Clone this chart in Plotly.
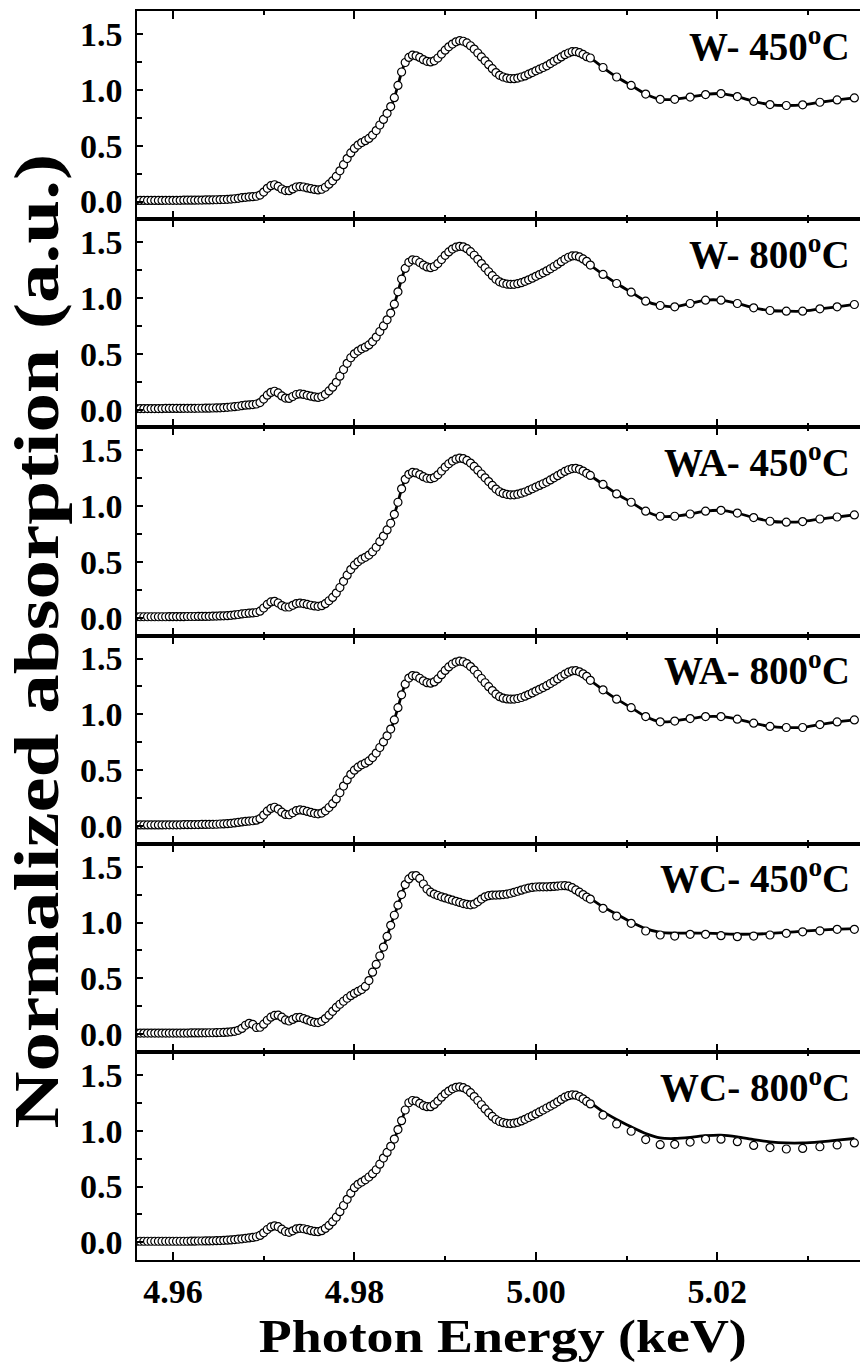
import plotly.graph_objects as go
from plotly.subplots import make_subplots

# Photon energy grid (eV): finely sampled XANES region, then the coarser post-edge region
E_DENSE_EV = [
    4956.0, 4956.4, 4956.8, 4957.2, 4957.6, 4958.0, 4958.4, 4958.8, 4959.2, 4959.6,
    4960.0, 4960.4, 4960.8, 4961.2, 4961.6, 4962.0, 4962.4, 4962.8, 4963.2, 4963.6,
    4964.0, 4964.4, 4964.8, 4965.2, 4965.6, 4966.0, 4966.4, 4966.8, 4967.2, 4967.6,
    4968.0, 4968.4, 4968.8, 4969.2, 4969.6, 4970.0, 4970.4, 4970.8, 4971.2, 4971.6,
    4972.0, 4972.4, 4972.8, 4973.2, 4973.6, 4974.0, 4974.4, 4974.8, 4975.2, 4975.6,
    4976.0, 4976.4, 4976.8, 4977.2, 4977.6, 4978.0, 4978.4, 4978.8, 4979.2, 4979.6,
    4980.0, 4980.4, 4980.8, 4981.2, 4981.6, 4982.0, 4982.4, 4982.8, 4983.2, 4983.6,
    4984.0, 4984.4, 4984.8, 4985.2, 4985.6, 4986.0, 4986.4, 4986.8, 4987.2, 4987.6,
    4988.0, 4988.4, 4988.8, 4989.2, 4989.6, 4990.0, 4990.4, 4990.8, 4991.2, 4991.6,
    4992.0, 4992.4, 4992.8, 4993.2, 4993.6, 4994.0, 4994.4, 4994.8, 4995.2, 4995.6,
    4996.0, 4996.4, 4996.8, 4997.2, 4997.6, 4998.0, 4998.4, 4998.8, 4999.2, 4999.6,
    5000.0, 5000.4, 5000.8, 5001.2, 5001.6, 5002.0, 5002.4, 5002.8, 5003.2, 5003.6,
    5004.0, 5004.4, 5004.8, 5005.2, 5005.6,
]
E_SPARSE_EV = [
    5006.0, 5007.4, 5008.9, 5010.5, 5012.1, 5013.7, 5015.3, 5017.0, 5018.7,
    5020.4, 5022.2, 5024.0, 5025.8, 5027.6, 5029.4, 5031.3, 5033.2, 5035.1,
]

SAMPLES = ["W- 450", "W- 800", "WA- 450", "WA- 800", "WC- 450", "WC- 800"]

# Normalized absorption, measured points
W450_DENSE = [
    0.010, 0.010, 0.010, 0.010, 0.010, 0.010, 0.010, 0.010, 0.011, 0.011,
    0.011, 0.011, 0.011, 0.012, 0.012, 0.012, 0.012, 0.013, 0.013, 0.014,
    0.014, 0.015, 0.016, 0.017, 0.018, 0.020, 0.022, 0.025, 0.029, 0.034,
    0.038, 0.041, 0.043, 0.047, 0.058, 0.085, 0.118, 0.142, 0.150, 0.135,
    0.112, 0.098, 0.097, 0.113, 0.130, 0.134, 0.130, 0.122, 0.115, 0.108,
    0.104, 0.110, 0.128, 0.155, 0.185, 0.225, 0.275, 0.330, 0.385, 0.435,
    0.475, 0.505, 0.528, 0.545, 0.565, 0.595, 0.635, 0.685, 0.735, 0.790,
    0.850, 0.930, 1.040, 1.160, 1.245, 1.290, 1.310, 1.305, 1.290, 1.270,
    1.255, 1.250, 1.260, 1.285, 1.320, 1.355, 1.385, 1.410, 1.430, 1.440,
    1.435, 1.420, 1.395, 1.365, 1.330, 1.295, 1.260, 1.225, 1.190, 1.155,
    1.130, 1.115, 1.105, 1.100, 1.100, 1.105, 1.115, 1.125, 1.140, 1.155,
    1.170, 1.185, 1.200, 1.215, 1.235, 1.255, 1.275, 1.295, 1.315, 1.330,
    1.342, 1.343, 1.333, 1.317, 1.297,
]
W450_SPARSE = [1.285, 1.200, 1.115, 1.040, 0.962, 0.915, 0.915, 0.935, 0.958,
               0.967, 0.940, 0.897, 0.868, 0.860, 0.866, 0.889, 0.910, 0.928]

W800_DENSE = [
    0.010, 0.010, 0.010, 0.010, 0.010, 0.010, 0.010, 0.010, 0.011, 0.011,
    0.011, 0.011, 0.011, 0.012, 0.012, 0.012, 0.012, 0.013, 0.013, 0.014,
    0.014, 0.015, 0.016, 0.017, 0.019, 0.021, 0.024, 0.027, 0.031, 0.036,
    0.040, 0.043, 0.046, 0.051, 0.064, 0.095, 0.130, 0.155, 0.165, 0.150,
    0.123, 0.104, 0.101, 0.118, 0.136, 0.141, 0.137, 0.129, 0.121, 0.114,
    0.110, 0.118, 0.138, 0.168, 0.202, 0.245, 0.300, 0.360, 0.415, 0.465,
    0.500, 0.525, 0.545, 0.560, 0.580, 0.610, 0.650, 0.700, 0.750, 0.805,
    0.865, 0.945, 1.055, 1.170, 1.265, 1.320, 1.342, 1.338, 1.318, 1.295,
    1.278, 1.272, 1.282, 1.308, 1.345, 1.382, 1.413, 1.438, 1.455, 1.463,
    1.458, 1.442, 1.415, 1.383, 1.346, 1.308, 1.270, 1.235, 1.200, 1.168,
    1.145, 1.132, 1.125, 1.122, 1.123, 1.128, 1.137, 1.149, 1.163, 1.178,
    1.194, 1.210, 1.226, 1.243, 1.262, 1.282, 1.303, 1.325, 1.347, 1.365,
    1.377, 1.378, 1.368, 1.350, 1.328,
]
W800_SPARSE = [1.295, 1.211, 1.130, 1.052, 0.972, 0.933, 0.921, 0.951, 0.981,
               0.981, 0.951, 0.912, 0.888, 0.882, 0.882, 0.903, 0.921, 0.942]

WA450_DENSE = [
    0.010, 0.010, 0.010, 0.010, 0.010, 0.010, 0.010, 0.010, 0.010, 0.011,
    0.011, 0.011, 0.011, 0.011, 0.012, 0.012, 0.012, 0.013, 0.013, 0.013,
    0.014, 0.015, 0.016, 0.017, 0.018, 0.020, 0.023, 0.026, 0.030, 0.035,
    0.039, 0.042, 0.044, 0.048, 0.060, 0.088, 0.120, 0.143, 0.148, 0.133,
    0.110, 0.097, 0.097, 0.112, 0.128, 0.132, 0.128, 0.120, 0.113, 0.107,
    0.103, 0.109, 0.127, 0.153, 0.183, 0.222, 0.272, 0.327, 0.382, 0.432,
    0.472, 0.502, 0.525, 0.542, 0.562, 0.592, 0.632, 0.682, 0.732, 0.787,
    0.847, 0.927, 1.035, 1.155, 1.240, 1.285, 1.302, 1.298, 1.283, 1.264,
    1.250, 1.246, 1.256, 1.281, 1.315, 1.350, 1.380, 1.404, 1.421, 1.430,
    1.425, 1.410, 1.386, 1.356, 1.322, 1.288, 1.254, 1.220, 1.186, 1.153,
    1.129, 1.114, 1.106, 1.102, 1.102, 1.107, 1.116, 1.127, 1.141, 1.156,
    1.171, 1.186, 1.201, 1.216, 1.235, 1.254, 1.273, 1.292, 1.311, 1.326,
    1.337, 1.339, 1.330, 1.314, 1.294,
]
WA450_SPARSE = [1.275, 1.195, 1.110, 1.035, 0.955, 0.910, 0.910, 0.930, 0.955,
                0.963, 0.938, 0.898, 0.865, 0.857, 0.862, 0.885, 0.903, 0.922]

WA800_DENSE = [
    0.010, 0.010, 0.010, 0.010, 0.010, 0.010, 0.010, 0.010, 0.011, 0.011,
    0.011, 0.011, 0.011, 0.012, 0.012, 0.012, 0.013, 0.013, 0.014, 0.014,
    0.015, 0.015, 0.016, 0.018, 0.019, 0.021, 0.024, 0.028, 0.032, 0.037,
    0.041, 0.044, 0.047, 0.052, 0.066, 0.098, 0.133, 0.158, 0.168, 0.152,
    0.124, 0.104, 0.101, 0.119, 0.138, 0.144, 0.140, 0.131, 0.122, 0.114,
    0.109, 0.116, 0.136, 0.166, 0.200, 0.243, 0.298, 0.358, 0.413, 0.463,
    0.500, 0.527, 0.548, 0.563, 0.583, 0.613, 0.653, 0.703, 0.753, 0.808,
    0.868, 0.950, 1.060, 1.175, 1.270, 1.325, 1.347, 1.343, 1.323, 1.300,
    1.284, 1.279, 1.290, 1.317, 1.355, 1.393, 1.425, 1.451, 1.468, 1.476,
    1.471, 1.455, 1.428, 1.396, 1.359, 1.321, 1.283, 1.248, 1.213, 1.181,
    1.158, 1.145, 1.138, 1.136, 1.137, 1.142, 1.151, 1.163, 1.177, 1.192,
    1.208, 1.224, 1.240, 1.257, 1.276, 1.296, 1.317, 1.339, 1.360, 1.378,
    1.390, 1.391, 1.381, 1.363, 1.340,
]
WA800_SPARSE = [1.305, 1.220, 1.136, 1.060, 0.980, 0.933, 0.940, 0.962, 0.980,
                0.980, 0.957, 0.921, 0.892, 0.882, 0.882, 0.908, 0.932, 0.950]

WC450_DENSE = [
    0.010, 0.010, 0.010, 0.010, 0.010, 0.010, 0.010, 0.010, 0.010, 0.010,
    0.010, 0.010, 0.010, 0.010, 0.010, 0.011, 0.011, 0.011, 0.012, 0.012,
    0.013, 0.013, 0.014, 0.015, 0.016, 0.018, 0.021, 0.026, 0.035, 0.052,
    0.080, 0.097, 0.088, 0.060, 0.062, 0.090, 0.125, 0.152, 0.168, 0.170,
    0.152, 0.128, 0.118, 0.132, 0.148, 0.150, 0.140, 0.128, 0.115, 0.106,
    0.104, 0.115, 0.140, 0.170, 0.205, 0.240, 0.268, 0.295, 0.322, 0.345,
    0.365, 0.383, 0.400, 0.428, 0.480, 0.555, 0.625, 0.700, 0.780, 0.875,
    0.975, 1.065, 1.155, 1.250, 1.340, 1.390, 1.418, 1.420, 1.395, 1.345,
    1.300, 1.272, 1.255, 1.242, 1.230, 1.220, 1.210, 1.200, 1.190, 1.180,
    1.170, 1.163, 1.158, 1.165, 1.185, 1.210, 1.230, 1.240, 1.245, 1.246,
    1.247, 1.250, 1.255, 1.262, 1.270, 1.280, 1.290, 1.300, 1.308, 1.314,
    1.318, 1.320, 1.320, 1.320, 1.321, 1.323, 1.326, 1.329, 1.330, 1.325,
    1.312, 1.292, 1.272, 1.250, 1.228,
]
WC450_SPARSE = [1.210, 1.127, 1.058, 0.993, 0.924, 0.888, 0.879, 0.894, 0.894,
                0.882, 0.873, 0.879, 0.888, 0.903, 0.917, 0.926, 0.939, 0.939]

WC800_DENSE = [
    0.010, 0.010, 0.010, 0.010, 0.010, 0.010, 0.010, 0.010, 0.010, 0.010,
    0.010, 0.010, 0.010, 0.010, 0.010, 0.011, 0.011, 0.012, 0.012, 0.013,
    0.013, 0.014, 0.015, 0.016, 0.018, 0.020, 0.022, 0.025, 0.028, 0.032,
    0.036, 0.040, 0.044, 0.050, 0.062, 0.085, 0.115, 0.138, 0.148, 0.140,
    0.118, 0.097, 0.090, 0.103, 0.120, 0.126, 0.122, 0.114, 0.105, 0.098,
    0.096, 0.105, 0.125, 0.152, 0.185, 0.225, 0.275, 0.330, 0.385, 0.440,
    0.490, 0.520, 0.540, 0.560, 0.585, 0.615, 0.650, 0.700, 0.755, 0.805,
    0.860, 0.925, 1.010, 1.090, 1.185, 1.250, 1.270, 1.265, 1.245, 1.225,
    1.215, 1.215, 1.235, 1.265, 1.300, 1.330, 1.355, 1.375, 1.388, 1.392,
    1.385, 1.368, 1.340, 1.305, 1.270, 1.232, 1.195, 1.160, 1.128, 1.100,
    1.082, 1.072, 1.066, 1.064, 1.067, 1.075, 1.087, 1.102, 1.118, 1.133,
    1.150, 1.168, 1.185, 1.203, 1.220, 1.238, 1.258, 1.280, 1.300, 1.313,
    1.320, 1.318, 1.305, 1.285, 1.262,
]
WC800_SPARSE = [1.240, 1.140, 1.060, 0.995, 0.920, 0.875, 0.878, 0.898, 0.925,
                0.924, 0.902, 0.868, 0.849, 0.836, 0.841, 0.856, 0.872, 0.890]

# Fitted curves in the post-edge region (the WC samples deviate from their fits)
WC450_FIT_SPARSE = [1.215, 1.140, 1.075, 1.005, 0.945, 0.912, 0.905, 0.906, 0.905,
                    0.900, 0.895, 0.896, 0.902, 0.912, 0.922, 0.932, 0.941, 0.946]
WC800_FIT_SPARSE = [1.250, 1.170, 1.100, 1.035, 0.975, 0.935, 0.930, 0.940, 0.955,
                    0.960, 0.945, 0.920, 0.900, 0.890, 0.890, 0.900, 0.915, 0.930]

DENSE = [W450_DENSE, W800_DENSE, WA450_DENSE, WA800_DENSE, WC450_DENSE, WC800_DENSE]
SPARSE = [W450_SPARSE, W800_SPARSE, WA450_SPARSE, WA800_SPARSE, WC450_SPARSE, WC800_SPARSE]
FIT_SPARSE = {4: WC450_FIT_SPARSE, 5: WC800_FIT_SPARSE}

for d in DENSE:
    assert len(d) == len(E_DENSE_EV)
for s in SPARSE + list(FIT_SPARSE.values()):
    assert len(s) == len(E_SPARSE_EV)

energy_kev = [e / 1000.0 for e in E_DENSE_EV + E_SPARSE_EV]

SERIF = "Liberation Serif"
N = len(SAMPLES)
MARKER = dict(symbol="circle", size=8, color="white",
              line=dict(color="black", width=1.2))
FIT_LINE = dict(color="black", width=2.8, shape="spline", smoothing=0.6)

fig = make_subplots(rows=N, cols=1, shared_xaxes=True, vertical_spacing=0)

for i in range(N):
    row = i + 1
    data_y = DENSE[i] + SPARSE[i]
    if i in FIT_SPARSE:
        fit_y = DENSE[i] + FIT_SPARSE[i]
        fig.add_trace(go.Scatter(x=energy_kev, y=fit_y, mode="lines",
                                 line=FIT_LINE, showlegend=False,
                                 hoverinfo="skip"), row=row, col=1)
        fig.add_trace(go.Scatter(x=energy_kev, y=data_y, mode="markers",
                                 marker=MARKER, showlegend=False),
                      row=row, col=1)
    else:
        fig.add_trace(go.Scatter(x=energy_kev, y=data_y, mode="lines+markers",
                                 line=FIT_LINE, marker=MARKER,
                                 showlegend=False), row=row, col=1)

    xref = "x domain" if row == 1 else f"x{row} domain"
    yref = "y domain" if row == 1 else f"y{row} domain"
    fig.add_annotation(
        text=f"{SAMPLES[i]}<sup>o</sup>C", xref=xref, yref=yref,
        x=0.989, y=0.843, xanchor="right", yanchor="middle", showarrow=False,
        font=dict(family=SERIF, size=39, color="black", weight="bold"))

fig.update_xaxes(
    range=[4.95604, 5.03572], tick0=4.96, dtick=0.02, tickformat=".2f",
    ticks="inside", ticklen=8, tickwidth=1.5, tickcolor="black",
    minor=dict(dtick=0.01, tick0=4.96, ticks="inside", ticklen=4,
               tickwidth=1.5, tickcolor="black"),
    showline=True, linecolor="black", linewidth=2, mirror="ticks",
    showgrid=False, zeroline=False, ticklabelstandoff=0,
    tickfont=dict(family=SERIF, size=34, color="black", weight="bold"))

fig.update_yaxes(
    range=[-0.158, 1.706], tick0=0, dtick=0.5, tickformat=".1f",
    ticks="inside", ticklen=6, tickwidth=1.5, tickcolor="black",
    minor=dict(dtick=0.25, tick0=0, ticks="inside", ticklen=5,
               tickwidth=1.5, tickcolor="black"),
    showline=True, linecolor="black", linewidth=1.5, mirror=False,
    showgrid=False, zeroline=False, ticklabelstandoff=6,
    tickfont=dict(family=SERIF, size=34, color="black", weight="bold"))

# Axis titles
fig.add_annotation(
    text="Photon Energy (keV)", xref="paper", yref="paper",
    x=0.506, y=-0.0608, xanchor="center", yanchor="middle", showarrow=False,
    font=dict(family=SERIF, size=47, color="black", weight="bold"))
fig.add_annotation(
    text="Normalized absorption (a.u.)", xref="paper", yref="paper",
    x=-0.1383, y=0.495, xanchor="center", yanchor="middle", textangle=-90,
    showarrow=False,
    font=dict(family=SERIF, size=64, color="black", weight="bold"))

fig.update_layout(
    width=860, height=1365, autosize=False,
    margin=dict(l=137, r=0, t=11, b=105),
    paper_bgcolor="white", plot_bgcolor="white",
    showlegend=False)

# Both axis titles are set in a narrow face: fit each to its drawn length.
TITLE_LENGTHS = {N: 488, N + 1: 975}
post_js = """
(function () {
  var gd = document.getElementById('{plot_id}');
  var lengths = %s;
  function fitTitles() {
    Object.keys(lengths).forEach(function (idx) {
      var t = gd.querySelector('g.annotation[data-index="' + idx + '"] text.annotation-text');
      if (t) {
        t.setAttribute('textLength', String(lengths[idx]));
        t.setAttribute('lengthAdjust', 'spacingAndGlyphs');
      }
    });
  }
  fitTitles();
  if (gd.on) { gd.on('plotly_afterplot', fitTitles); }
})();
""" % ("{" + ", ".join(f'"{k}": {v}' for k, v in TITLE_LENGTHS.items()) + "}")

fig.write_html("out.html", config={"displayModeBar": False}, post_script=post_js)
